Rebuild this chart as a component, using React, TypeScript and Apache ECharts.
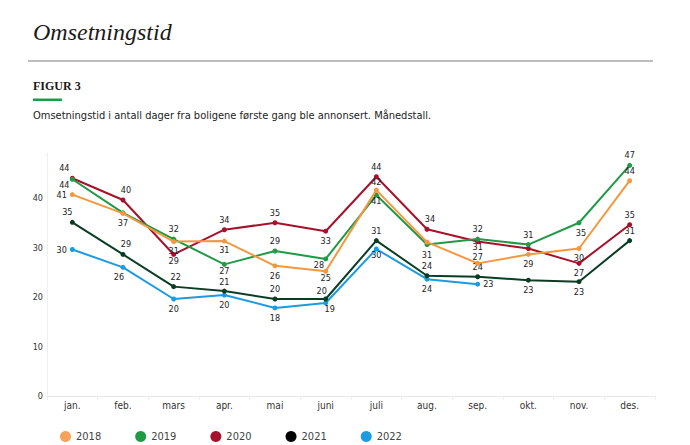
import React, { useEffect, useRef } from "react";
import * as echarts from "echarts";

const months = ["jan.", "feb.", "mars", "apr.", "mai", "juni", "juli", "aug.", "sep.", "okt.", "nov.", "des."];
const years = ["2018", "2019", "2020", "2021", "2022"];
const v2018 = [40.7, 36.9, 31.2, 31.3, 26.3, 25.2, 41.6, 31.1, 26.8, 28.6, 29.8, 43.5];
const v2019 = [43.8, 37.0, 31.7, 26.6, 29.3, 27.7, 40.6, 30.6, 31.7, 30.6, 35.0, 46.6];
const v2020 = [44.0, 39.6, 28.6, 33.6, 35.0, 33.3, 44.3, 33.7, 31.2, 29.8, 26.8, 34.6];
const v2021 = [35.1, 28.6, 22.1, 21.2, 19.6, 19.6, 31.4, 24.3, 24.1, 23.4, 23.1, 31.4];
const v2022 = [29.6, 26.0, 19.6, 20.4, 17.8, 18.8, 29.7, 23.6, 22.6, null, null, null];
const yTicks = [0, 10, 20, 30, 40];

const colors = ["#F5973F", "#1F9A45", "#A6112B", "#0B3D24", "#1B9BE0"];
const legendColors = ["#F5A25A", "#1F9A45", "#A6112B", "#000000", "#1B9BE0"];

// label placement per point: [position, dx, dy] or null = hidden
type LP = [string, number, number] | null;
const lp2018: LP[] = [["left", 0, 0], ["bottom", 0, 0], ["bottom", 0, -1], ["bottom", 0, -1], ["bottom", 0, 0], ["bottom", 0, -3], ["top", 0, 2], null, ["top", 0, 4], ["bottom", 0, 0], ["bottom", 0, -1], ["top", 0, 0]];
const lp2019: LP[] = [["bottom", -8, -4], null, ["top", 0, 0], ["bottom", 0, -3], ["top", 0, 0], ["left", 4, 6], ["bottom", 0, -4], ["bottom", 0, 0], ["top", 0, 0], ["top", 0, 0], ["bottom", 2, 0], ["top", 0, 0]];
const lp2020: LP[] = [["top", -8, 0], ["top", 3, 0], ["bottom", 0, -3], ["top", 0, 0], ["top", 0, 0], ["bottom", 0, 0], ["top", 0, 0], ["top", 3, 0], ["bottom", 0, -5], null, ["bottom", 0, 0], ["top", 0, 0]];
const lp2021: LP[] = [["top", -5, 0], ["top", 3, 0], ["top", 2, 0], ["top", 0, 1], ["top", 0, 0], ["top", -4, 2], ["top", 0, 0], ["top", 0, 0], ["top", 0, 0], ["bottom", 0, 0], ["bottom", 0, 0], ["top", 0, 0]];
const lp2022: LP[] = [["left", 0, 0], ["bottom", -4, 0], ["bottom", 0, 0], ["bottom", 0, 0], ["bottom", 0, 0], ["bottom", 4, -4], ["bottom", 0, -4], ["bottom", 0, 0], ["right", 0, 0], null, null, null];

const FONT = "'DejaVu Sans Condensed', 'Liberation Sans Narrow', 'DejaVu Sans', sans-serif";

function build(values: (number | null)[], lps: LP[]) {
  return values.map((v, i) => {
    const p = lps[i];
    if (v === null) return null;
    if (!p) return { value: v, label: { show: false } };
    return { value: v, label: { show: true, position: p[0], offset: [p[1], p[2]], distance: 3 } };
  });
}

export default function App() {
  const ref = useRef<HTMLDivElement>(null);
  useEffect(() => {
    if (!ref.current) return;
    const chart = echarts.init(ref.current, undefined, { renderer: "svg" });
    const all = [v2018, v2019, v2020, v2021, v2022];
    const lps = [lp2018, lp2019, lp2020, lp2021, lp2022];
    chart.setOption({
      animation: false,
      backgroundColor: "#ffffff",
      textStyle: { fontFamily: FONT },
      graphic: [
        { type: "text", left: 33, top: 20, style: { text: "Omsetningstid", font: "italic 24px 'Liberation Serif', serif", fill: "#1c1a17" } },
        { type: "rect", shape: { x: 28, y: 60, width: 625, height: 2 }, style: { fill: "#bdbdbd" } },
        { type: "text", left: 33, top: 80, style: { text: "FIGUR 3", font: "bold 12px 'Liberation Serif', serif", fill: "#1c1a17" } },
        { type: "rect", shape: { x: 33, y: 98.5, width: 29, height: 2.5 }, style: { fill: "#1F9A45" } },
        { type: "text", left: 33, top: 110, style: { text: "Omsetningstid i antall dager fra boligene første gang ble annonsert. Månedstall.", font: "11px " + FONT, fill: "#222" } },
      ],
      legend: {
        data: years.map((y, i) => ({ name: y, itemStyle: { color: legendColors[i] } })),
        left: 55,
        top: 426,
        icon: "circle",
        itemWidth: 11,
        itemHeight: 11,
        itemGap: 34,
        textStyle: { fontSize: 11, color: "#444", fontFamily: FONT },
      },
      grid: { left: 47, right: 35, top: 153.5, bottom: 49, containLabel: false },
      xAxis: {
        type: "category",
        data: months,
        boundaryGap: true,
        axisLine: { show: true, lineStyle: { color: "#e8e8e8", width: 1 } },
        axisTick: { show: true, length: 4, lineStyle: { color: "#eeeeee" } },
        axisLabel: { color: "#333", fontSize: 10, margin: 4, fontFamily: FONT },
      },
      yAxis: {
        type: "value",
        min: 0,
        max: 49,
        interval: 10,
        axisLine: { show: true, lineStyle: { color: "#eeeeee" } },
        axisTick: { show: false },
        splitLine: { show: false },
        axisLabel: { color: "#333", fontSize: 9, margin: 4, showMaxLabel: false, fontFamily: FONT,
          formatter: (v: number) => (yTicks.includes(v) ? String(v) : "") },
      },
      series: years.map((y, i) => ({
        name: y,
        type: "line",
        data: build(all[i], lps[i]),
        color: colors[i],
        lineStyle: { width: 2, color: colors[i] },
        itemStyle: { color: colors[i] },
        symbol: "circle",
        symbolSize: 5,
        showSymbol: true,
        connectNulls: false,
        z: 10 - i,
        label: { color: "#222", fontSize: 9, fontFamily: FONT, formatter: (p: any) => String(Math.round(p.value)) },
      })),
    });
    return () => chart.dispose();
  }, []);
  return <div ref={ref} style={{ position: "fixed", left: 0, top: 0, width: 690, height: 445 }} />;
}
